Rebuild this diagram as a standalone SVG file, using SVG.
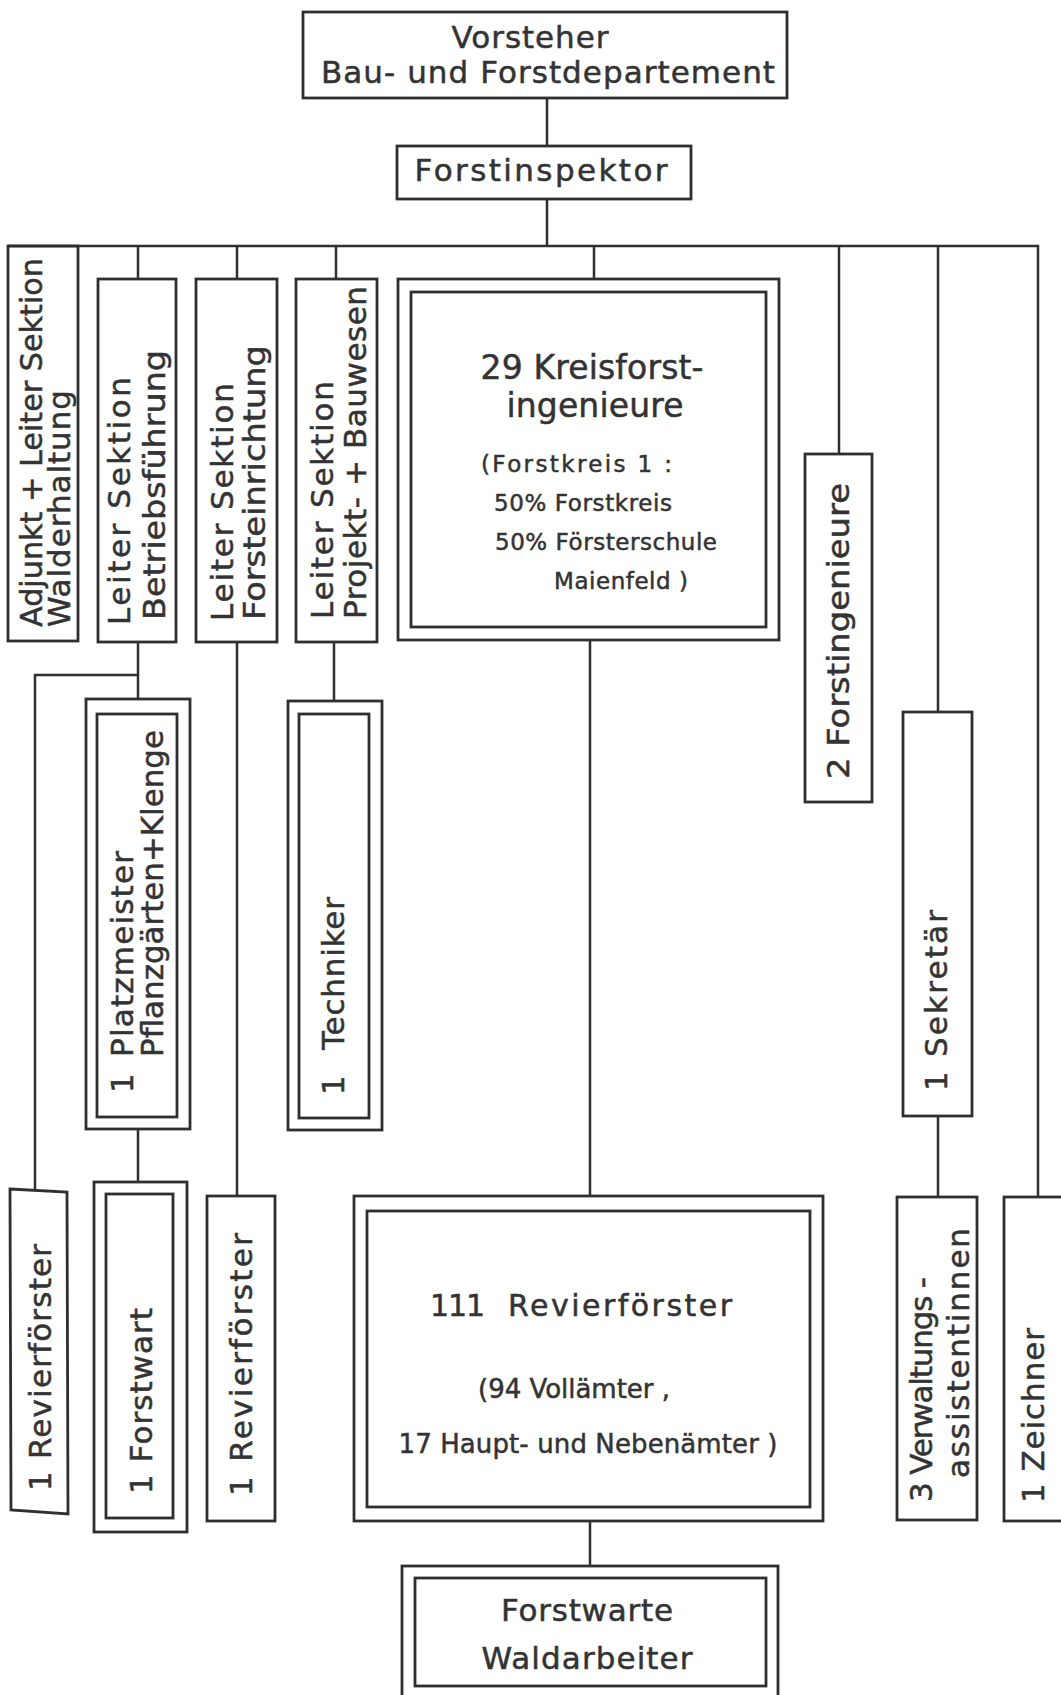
<svg xmlns="http://www.w3.org/2000/svg" width="1061" height="1695" viewBox="0 0 1061 1695">
<style>
.bx{fill:none;stroke:#2f2f2f;stroke-width:2.8}
.ln{fill:none;stroke:#2f2f2f;stroke-width:2.5}
text{font-family:"DejaVu Sans","Liberation Sans",sans-serif;fill:#333;stroke:#333;stroke-width:0.5}
.h{font-size:31px;text-anchor:middle}
.t{font-size:33px;text-anchor:middle}
.s{font-size:23px}
.m{font-size:26px;text-anchor:middle}
.v{font-size:31px}
</style>
<rect width="1061" height="1695" fill="#fff"/>
<g id="connectors" class="ln">
<path d="M547 98V146 M547 199V246 M8 246H1038V1197 M138 246V279 M237 246V279 M336 246V279 M594 246V279 M839 246V454 M938 246V712 M138 642V699 M138 675H35V1190 M237 642V1196 M334 642V701 M590 640V1196 M938 1116V1197 M138 1129V1182 M590 1521V1566"/>
</g>
<g id="n-vorsteher">
<rect class="bx" x="303" y="12" width="484" height="86"/>
<text class="h" x="530" y="48" textLength="157">Vorsteher</text>
<text class="h" x="548" y="83" textLength="454">Bau- und Forstdepartement</text>
</g>
<g id="n-forstinspektor">
<rect class="bx" x="397" y="146" width="294" height="53"/>
<text class="h" x="541" y="181" textLength="253">Forstinspektor</text>
</g>
<g id="n-adjunkt">
<rect class="bx" x="8" y="246" width="70" height="395"/>
<text class="v" transform="translate(42,627) rotate(-90)" textLength="369" lengthAdjust="spacingAndGlyphs">Adjunkt + Leiter Sektion</text>
<text class="v" transform="translate(70,627) rotate(-90)" textLength="237">Walderhaltung</text>
</g>
<g id="n-betrieb">
<rect class="bx" x="98" y="279" width="78" height="363"/>
<text class="v" transform="translate(130,625) rotate(-90)" textLength="248">Leiter Sektion</text>
<text class="v" transform="translate(165,620) rotate(-90)" textLength="270" lengthAdjust="spacingAndGlyphs">Betriebsführung</text>
</g>
<g id="n-einrichtung">
<rect class="bx" x="196" y="279" width="81" height="363"/>
<text class="v" transform="translate(233,621) rotate(-90)" textLength="238">Leiter Sektion</text>
<text class="v" transform="translate(265,620) rotate(-90)" textLength="275" lengthAdjust="spacingAndGlyphs">Forsteinrichtung</text>
</g>
<g id="n-projekt">
<rect class="bx" x="296" y="279" width="81" height="363"/>
<text class="v" transform="translate(333,619) rotate(-90)" textLength="238">Leiter Sektion</text>
<text class="v" transform="translate(366,619) rotate(-90)" textLength="333">Projekt- + Bauwesen</text>
</g>
<g id="n-kreisforst">
<rect class="bx" x="398" y="279" width="381" height="361"/>
<rect class="bx" x="411" y="292" width="355" height="335"/>
<text class="t" x="592" y="379" textLength="223">29 Kreisforst-</text>
<text class="t" x="595" y="417" textLength="177">ingenieure</text>
<text class="s" x="481" y="472" textLength="191">(Forstkreis 1 :</text>
<text class="s" x="494" y="511" textLength="178">50% Forstkreis</text>
<text class="s" x="495" y="550" textLength="222">50% Försterschule</text>
<text class="s" x="554" y="589" textLength="134">Maienfeld )</text>
</g>
<g id="n-forstingenieure">
<rect class="bx" x="805" y="454" width="67" height="348"/>
<text class="v" transform="translate(849,779) rotate(-90)" textLength="296" lengthAdjust="spacingAndGlyphs">2 Forstingenieure</text>
</g>
<g id="n-sekretaer">
<rect class="bx" x="903" y="712" width="69" height="404"/>
<text class="v" transform="translate(947,1091) rotate(-90)" textLength="181">1 Sekretär</text>
</g>
<g id="n-platzmeister">
<rect class="bx" x="86" y="699" width="104" height="430"/>
<rect class="bx" x="97" y="714" width="80" height="403"/>
<text class="v" transform="translate(133,1093) rotate(-90)"><tspan x="0">1</tspan><tspan x="36" textLength="206">Platzmeister</tspan></text>
<text class="v" transform="translate(163,1057) rotate(-90)" textLength="327" lengthAdjust="spacingAndGlyphs">Pflanzgärten+Klenge</text>
</g>
<g id="n-techniker">
<rect class="bx" x="288" y="701" width="94" height="429"/>
<rect class="bx" x="299" y="714" width="70" height="404"/>
<text class="v" transform="translate(344,1095) rotate(-90)"><tspan x="0">1</tspan><tspan x="45" textLength="153">Techniker</tspan></text>
</g>
<g id="n-revier1">
<polygon class="bx" points="10,1189 67,1192 68,1514 11,1510"/>
<text class="v" transform="translate(51,1491) rotate(-90)" textLength="247">1 Revierförster</text>
</g>
<g id="n-forstwart">
<rect class="bx" x="94" y="1182" width="93" height="350"/>
<rect class="bx" x="106" y="1194" width="67" height="324"/>
<text class="v" transform="translate(152,1494) rotate(-90)" textLength="186">1 Forstwart</text>
</g>
<g id="n-revier2">
<rect class="bx" x="207" y="1196" width="68" height="325"/>
<text class="v" transform="translate(252,1496) rotate(-90)" textLength="263">1 Revierförster</text>
</g>
<g id="n-revierfoerster">
<rect class="bx" x="354" y="1196" width="469" height="325"/>
<rect class="bx" x="367" y="1211" width="443" height="296"/>
<text x="430" y="1316" font-size="30"><tspan x="430" textLength="55">111</tspan><tspan x="508" textLength="224">Revierförster</tspan></text>
<text class="m" x="574" y="1398" textLength="192">(94 Vollämter ,</text>
<text class="m" x="588" y="1453" textLength="379">17 Haupt- und Nebenämter )</text>
</g>
<g id="n-verwaltung">
<rect class="bx" x="897" y="1197" width="80" height="323"/>
<text class="v" transform="translate(932,1502) rotate(-90)" textLength="225">3 Verwaltungs -</text>
<text class="v" transform="translate(969,1478) rotate(-90)" textLength="250">assistentinnen</text>
</g>
<g id="n-zeichner">
<rect class="bx" x="1004" y="1197" width="70" height="324"/>
<text class="v" transform="translate(1044,1503) rotate(-90)" textLength="175">1 Zeichner</text>
</g>
<g id="n-forstwarte">
<rect class="bx" x="402" y="1566" width="376" height="134"/>
<rect class="bx" x="415" y="1578" width="351" height="108"/>
<text class="h" x="587" y="1621" textLength="172">Forstwarte</text>
<text class="h" x="587" y="1669" textLength="211">Waldarbeiter</text>
</g>
</svg>
